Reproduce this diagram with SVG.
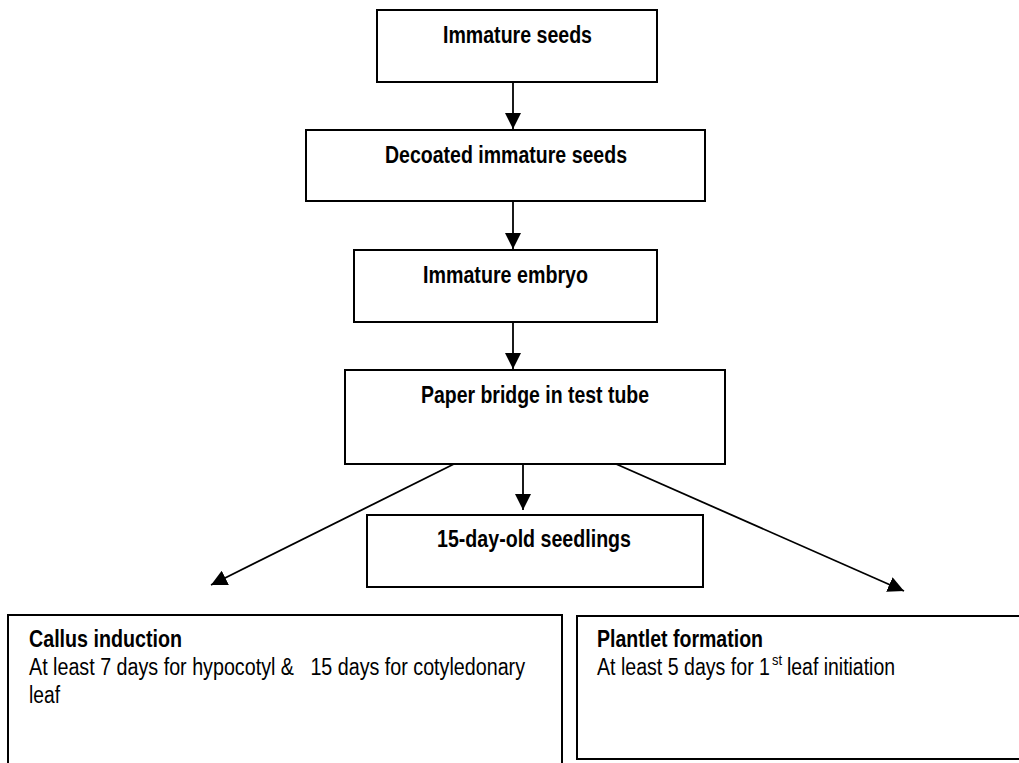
<svg xmlns="http://www.w3.org/2000/svg" width="1019" height="763" viewBox="0 0 1019 763">
<style>
.box{fill:#fff;stroke:#000;stroke-width:2}
.lbl{font-family:"Liberation Sans Narrow","Arial Narrow","Liberation Sans",sans-serif;font-size:23px;font-weight:bold;fill:#000}
.body{font-family:"Liberation Sans Narrow","Arial Narrow","Liberation Sans",sans-serif;font-size:23px;fill:#000}
.sup{font-family:"Liberation Sans Narrow","Arial Narrow","Liberation Sans",sans-serif;font-size:14px;fill:#000}
.con{stroke:#000;stroke-width:1.8;fill:none}
</style>
<defs>
<marker id="ah" markerUnits="userSpaceOnUse" markerWidth="18" markerHeight="16" refX="16" refY="8" orient="auto">
<path d="M0,0 L16,8 L0,16 Z" fill="#000"/>
</marker>
</defs>
<rect width="1019" height="763" fill="#fff"/>
<g id="connectors">
<line class="con" x1="513" y1="82" x2="513" y2="129" marker-end="url(#ah)"/>
<line class="con" x1="513" y1="201" x2="513" y2="249" marker-end="url(#ah)"/>
<line class="con" x1="513" y1="322" x2="513" y2="369" marker-end="url(#ah)"/>
<line class="con" x1="523" y1="464" x2="523" y2="510" marker-end="url(#ah)"/>
<line class="con" x1="456" y1="463" x2="211" y2="585" marker-end="url(#ah)"/>
<line class="con" x1="607" y1="460" x2="904" y2="591" marker-end="url(#ah)"/>
</g>
<g id="n1"><rect class="box" x="377" y="10" width="280" height="72"/><text class="lbl" x="443" y="43" textLength="149" lengthAdjust="spacingAndGlyphs">Immature seeds</text></g>
<g id="n2"><rect class="box" x="306" y="130" width="399" height="71"/><text class="lbl" x="385" y="163" textLength="242" lengthAdjust="spacingAndGlyphs">Decoated immature seeds</text></g>
<g id="n3"><rect class="box" x="354" y="250" width="303" height="72"/><text class="lbl" x="423" y="283" textLength="165" lengthAdjust="spacingAndGlyphs">Immature embryo</text></g>
<g id="n4"><rect class="box" x="345" y="370" width="380" height="94"/><text class="lbl" x="421" y="403" textLength="228" lengthAdjust="spacingAndGlyphs">Paper bridge in test tube</text></g>
<g id="n5"><rect class="box" x="367" y="515" width="336" height="72"/><text class="lbl" x="437" y="547" textLength="194" lengthAdjust="spacingAndGlyphs">15-day-old seedlings</text></g>
<g id="n6"><rect class="box" x="8" y="615" width="554" height="160"/>
<text class="lbl" x="29" y="647" textLength="153" lengthAdjust="spacingAndGlyphs">Callus induction</text>
<text class="body" x="29" y="675" xml:space="preserve" textLength="496" lengthAdjust="spacingAndGlyphs">At least 7 days for hypocotyl &amp;   15 days for cotyledonary</text>
<text class="body" x="29" y="703" textLength="31" lengthAdjust="spacingAndGlyphs">leaf</text></g>
<g id="n7"><rect class="box" x="577" y="616" width="460" height="143"/>
<text class="lbl" x="597" y="647" textLength="166" lengthAdjust="spacingAndGlyphs">Plantlet formation</text>
<text class="body" x="597" y="675" textLength="173" lengthAdjust="spacingAndGlyphs">At least 5 days for 1</text>
<text class="sup" x="772" y="665" textLength="10" lengthAdjust="spacingAndGlyphs">st</text>
<text class="body" x="787" y="675" textLength="108" lengthAdjust="spacingAndGlyphs">leaf initiation</text></g>
</svg>
